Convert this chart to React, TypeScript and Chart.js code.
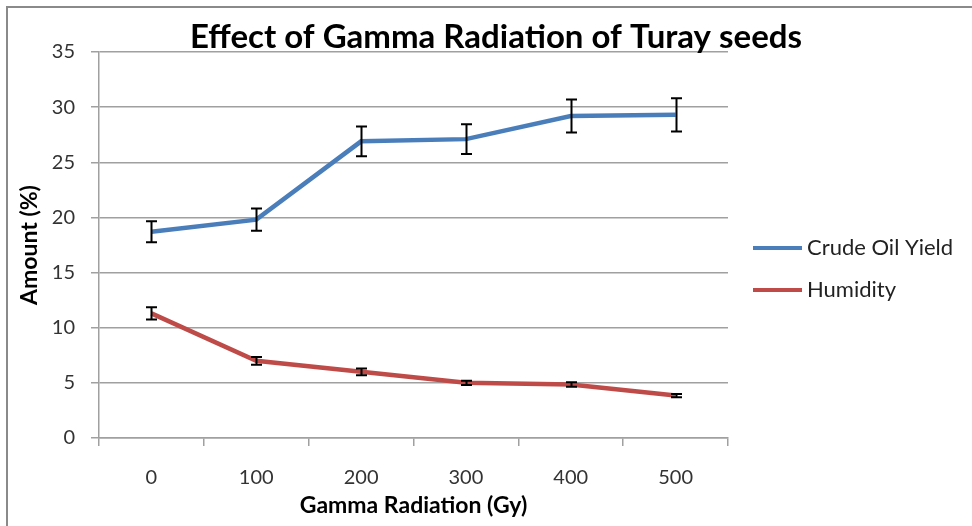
import React, { useEffect, useRef } from "react";
import { Chart, registerables } from "chart.js";

Chart.register(...registerables);

const categories = ["0", "100", "200", "300", "400", "500"];
const crudeOil = [18.7, 19.8, 26.9, 27.1, 29.2, 29.3];
const crudeOilErr = [0.95, 1.0, 1.35, 1.35, 1.5, 1.5];
const humidity = [11.3, 7.0, 6.0, 5.0, 4.85, 3.85];
const humidityErr = [0.55, 0.35, 0.3, 0.2, 0.2, 0.15];
const seriesLabels = ["Crude Oil Yield", "Humidity"];
const seriesColors = ["#4a7ebb", "#be4b48"];
const titleText = "Effect of Gamma Radiation of Turay seeds";
const xTitle = "Gamma Radiation (Gy)";
const yTitle = "Amount (%)";
const yMin = 0;
const yMax = 35;
const yStep = 5;

const FONT = "Lato, 'Open Sans', sans-serif";
const errorsByDataset = [crudeOilErr, humidityErr];

const decorPlugin = {
  id: "decor",
  beforeDraw(chart: any) {
    const ctx = chart.ctx;
    ctx.save();
    ctx.fillStyle = "#ffffff";
    ctx.fillRect(0, 0, chart.width, chart.height);
    ctx.strokeStyle = "#8a8a8a";
    ctx.lineWidth = 2;
    ctx.beginPath();
    ctx.moveTo(7, chart.height);
    ctx.lineTo(7, 7);
    ctx.lineTo(chart.width, 7);
    ctx.stroke();
    ctx.restore();
  },
  afterDatasetsDraw(chart: any) {
    const ctx = chart.ctx;
    const yScale = chart.scales.y;
    ctx.save();
    ctx.strokeStyle = "#000000";
    ctx.lineWidth = 2;
    chart.data.datasets.forEach((ds: any, i: number) => {
      const meta = chart.getDatasetMeta(i);
      const errs = errorsByDataset[i];
      meta.data.forEach((pt: any, j: number) => {
        const v = ds.data[j];
        const e = errs[j];
        const x = Math.round(pt.x) + 0.5;
        const yt = yScale.getPixelForValue(v + e);
        const yb = yScale.getPixelForValue(v - e);
        ctx.beginPath();
        ctx.moveTo(x, yt);
        ctx.lineTo(x, yb);
        ctx.moveTo(x - 5.5, yt);
        ctx.lineTo(x + 5.5, yt);
        ctx.moveTo(x - 5.5, yb);
        ctx.lineTo(x + 5.5, yb);
        ctx.stroke();
      });
    });
    ctx.restore();
  },
  afterDraw(chart: any) {
    const ctx = chart.ctx;
    ctx.save();
    // title
    ctx.fillStyle = "#000000";
    ctx.font = `bold 33px ${FONT}`;
    ctx.textAlign = "center";
    ctx.textBaseline = "middle";
    ctx.fillText(titleText, 496, 37);
    // legend
    const legendY = [248, 290];
    chart.data.datasets.forEach((ds: any, i: number) => {
      const y = legendY[i];
      ctx.strokeStyle = ds.borderColor;
      ctx.lineWidth = 4;
      ctx.beginPath();
      ctx.moveTo(753, y);
      ctx.lineTo(802, y);
      ctx.stroke();
      ctx.fillStyle = "#222222";
      ctx.font = `22px ${FONT}`;
      ctx.textAlign = "left";
      ctx.textBaseline = "middle";
      ctx.fillText(ds.label, 807, y);
    });
    ctx.restore();
  },
};

export default function App() {
  const ref = useRef<HTMLCanvasElement | null>(null);
  useEffect(() => {
    if (!ref.current) return;
    const chart = new Chart(ref.current, {
      type: "line",
      data: {
        labels: categories,
        datasets: [
          {
            label: seriesLabels[0],
            data: crudeOil,
            borderColor: seriesColors[0],
            backgroundColor: seriesColors[0],
            borderWidth: 4.5,
            pointRadius: 0,
            tension: 0,
          },
          {
            label: seriesLabels[1],
            data: humidity,
            borderColor: seriesColors[1],
            backgroundColor: seriesColors[1],
            borderWidth: 4.5,
            pointRadius: 0,
            tension: 0,
          },
        ],
      },
      options: {
        animation: false,
        responsive: false,
        maintainAspectRatio: false,
        layout: { padding: { left: 0, top: 52, right: 244, bottom: 0 } },
        plugins: {
          legend: { display: false },
          title: { display: false },
          tooltip: { enabled: false },
        },
        scales: {
          x: {
            type: "category",
            offset: true,
            grid: {
              offset: true,
              drawOnChartArea: false,
              drawTicks: true,
              tickLength: 8,
              color: "#a0a0a0",
              lineWidth: 1.5,
            },
            border: { color: "#a0a0a0", width: 1.5 },
            ticks: {
              color: "#333333",
              font: { family: FONT, size: 20 },
              padding: 20,
              maxRotation: 0,
            },
            title: {
              display: true,
              text: xTitle,
              color: "#000000",
              font: { family: FONT, size: 23, weight: "bold" },
              padding: { top: 0, bottom: 7 },
            },
            afterFit(scale: any) {
              scale.height = 88;
            },
          },
          y: {
            min: yMin,
            max: yMax,
            ticks: {
              stepSize: yStep,
              color: "#333333",
              font: { family: FONT, size: 20 },
              padding: 16,
            },
            grid: {
              color: "#a0a0a0",
              lineWidth: 1.5,
              tickLength: 8,
            },
            border: { color: "#a0a0a0", width: 1.5 },
            title: {
              display: true,
              text: yTitle,
              color: "#000000",
              font: { family: FONT, size: 23, weight: "bold" },
              padding: { top: 16, bottom: 0 },
            },
            afterFit(scale: any) {
              scale.width = 99;
            },
          },
        },
      },
      plugins: [decorPlugin],
    });
    return () => chart.destroy();
  }, []);
  return (
    <div style={{ position: "fixed", left: 0, top: 0, width: 972, height: 526, background: "#fff" }}>
      <canvas ref={ref} width={972} height={526} style={{ display: "block", width: 972, height: 526 }} />
    </div>
  );
}
